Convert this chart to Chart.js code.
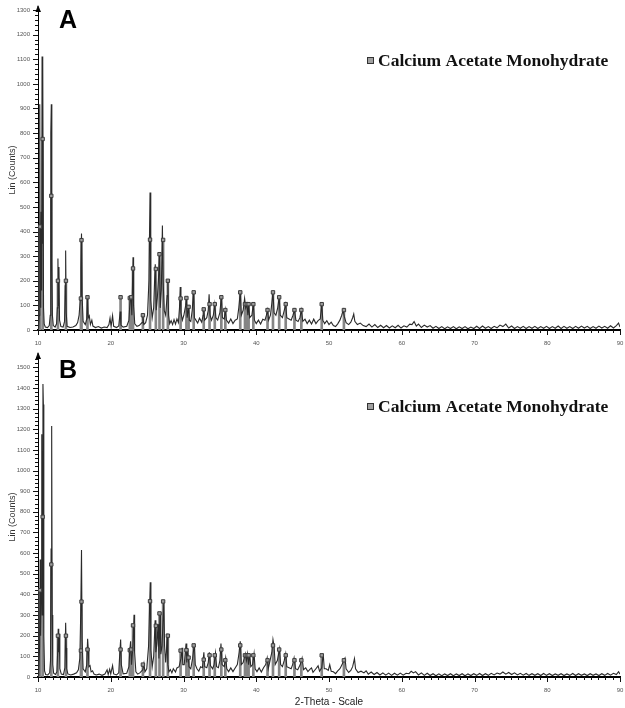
<!DOCTYPE html>
<html>
<head>
<meta charset="utf-8">
<script src="https://cdn.jsdelivr.net/npm/chart.js@4.4.1/dist/chart.umd.min.js"></script>
<style>
  html, body { margin: 0; padding: 0; background: #fff; width: 625px; height: 708px; overflow: hidden; }
  canvas { position: absolute; left: 0; }
  #panelA { top: 0; }
  #panelB { top: 350px; }
</style>
</head>
<body>
<canvas id="panelA" width="625" height="350"></canvas>
<canvas id="panelB" width="625" height="358"></canvas>
<script>
// 2-Theta tick labels and count tick labels
const thetaTicks = [10, 20, 30, 40, 50, 60, 70, 80, 90];
const countTicksA = [0, 100, 200, 300, 400, 500, 600, 700, 800, 900, 1000, 1100, 1200, 1300];
const countTicksB = [0, 100, 200, 300, 400, 500, 600, 700, 800, 900, 1000, 1100, 1200, 1300, 1400, 1500];

// Reference stick pattern: Calcium Acetate Monohydrate (2-Theta, counts)
const refTheta = [10.27, 10.64, 11.83, 12.74, 13.84, 15.90, 15.98, 16.80, 21.35, 22.62, 22.80, 23.06,
  24.42, 25.40, 26.20, 26.70, 27.20, 27.85, 29.60, 30.40, 30.70, 31.40, 32.78, 33.58, 34.30, 35.20,
  35.75, 37.80, 38.45, 38.70, 38.95, 39.60, 41.55, 42.30, 43.15, 44.05, 45.25, 46.20, 49.00, 52.05];
const refCounts = [420, 776, 545, 200, 200, 128, 365, 133, 133, 130, 133, 250,
  60, 367, 248, 308, 366, 200, 128, 130, 94, 153, 84, 105, 105, 133,
  81, 153, 105, 105, 105, 105, 81, 153, 133, 105, 81, 81, 105, 81];

// Measured scan, sample A (2-Theta, counts)
const scanA = [
  [10.00,8],[10.10,14],[10.18,60],[10.24,917],[10.30,200],[10.38,90],[10.45,480],[10.50,160],[10.56,1111],
  [10.62,350],[10.68,1090],[10.76,90],[10.85,25],[11.00,12],[11.30,10],[11.55,18],[11.68,60],[11.76,800],
  [11.83,917],[11.90,280],[11.98,60],[12.10,18],[12.35,12],[12.55,25],[12.66,90],[12.74,290],[12.81,100],
  [12.88,256],[12.96,40],[13.15,14],[13.45,12],[13.65,35],[13.74,180],[13.80,323],[13.88,70],[14.00,15],
  [14.40,10],[14.80,12],[15.20,18],[15.45,30],[15.65,60],[15.80,120],[15.90,250],[15.98,392],[16.06,140],
  [16.20,35],[16.50,22],[16.70,45],[16.80,133],[16.90,50],[17.05,58],[17.20,22],[17.40,40],[17.55,16],
  [17.90,10],[18.30,14],[18.70,8],[19.10,12],[19.50,10],[19.75,22],[19.90,48],[20.05,14],[20.25,58],
  [20.40,15],[20.80,10],[21.10,16],[21.30,75],[21.40,20],[21.70,12],[22.20,15],[22.50,40],[22.65,120],
  [22.78,130],[22.90,60],[23.00,200],[23.06,296],[23.14,100],[23.30,25],[23.60,15],[23.90,18],[24.30,30],
  [24.42,57],[24.55,22],[24.80,30],[25.05,60],[25.25,200],[25.40,559],[25.50,120],[25.70,50],[25.90,90],
  [26.05,220],[26.12,267],[26.25,80],[26.40,130],[26.55,200],[26.70,310],[26.80,90],[26.95,160],[27.10,424],
  [27.20,200],[27.35,80],[27.55,60],[27.75,140],[27.85,202],[27.95,60],[28.10,25],[28.30,38],[28.50,22],
  [28.70,42],[28.90,24],[29.10,45],[29.30,30],[29.45,90],[29.55,175],[29.65,70],[29.85,40],[30.05,60],
  [30.30,100],[30.40,128],[30.50,50],[30.70,94],[30.80,40],[31.00,35],[31.20,80],[31.37,155],[31.50,50],
  [31.70,40],[31.95,28],[32.20,48],[32.50,32],[32.70,60],[32.78,84],[32.90,40],[33.20,50],[33.40,80],
  [33.52,145],[33.65,60],[33.85,40],[34.10,60],[34.30,105],[34.45,50],[34.70,40],[35.00,70],[35.20,133],
  [35.35,50],[35.60,45],[35.75,81],[35.90,40],[36.20,28],[36.50,45],[36.80,26],[37.10,40],[37.40,45],
  [37.60,90],[37.80,153],[37.95,60],[38.20,80],[38.40,128],[38.55,90],[38.70,105],[38.85,60],[38.95,105],
  [39.10,50],[39.40,60],[39.60,105],[39.75,40],[40.00,26],[40.30,40],[40.60,24],[40.90,44],[41.20,40],
  [41.40,60],[41.55,81],[41.70,40],[41.95,60],[42.15,110],[42.30,153],[42.45,70],[42.70,60],[42.95,90],
  [43.15,133],[43.30,60],[43.60,50],[43.85,80],[44.05,105],[44.20,50],[44.50,45],[44.80,40],[45.05,60],
  [45.25,81],[45.45,40],[45.75,35],[46.00,50],[46.20,81],[46.40,35],[46.70,44],[47.00,26],[47.30,40],
  [47.60,24],[47.90,44],[48.20,26],[48.50,38],[48.80,45],[49.00,105],[49.15,40],[49.40,26],[49.70,38],
  [50.00,22],[50.30,32],[50.60,18],[50.90,14],[51.20,25],[51.50,40],[51.75,60],[51.95,81],[52.10,55],
  [52.35,30],[52.70,22],[53.00,32],[53.25,50],[53.40,65],[53.55,35],[53.90,22],[54.30,28],[54.70,18],
  [55.10,14],[55.50,24],[55.90,12],[56.30,22],[56.70,10],[57.10,19],[57.50,9],[57.90,18],[58.30,8],
  [58.70,17],[59.10,9],[59.50,19],[59.90,8],[60.30,17],[60.70,12],[61.10,24],[61.40,22],[61.70,34],
  [62.00,16],[62.30,24],[62.70,10],[63.10,20],[63.50,12],[63.90,18],[64.30,7],[64.70,15],[65.10,6],
  [65.50,14],[65.90,5],[66.30,13],[66.70,6],[67.10,14],[67.50,5],[67.90,13],[68.30,6],[68.70,14],
  [69.10,5],[69.50,12],[69.90,6],[70.30,15],[70.70,6],[71.10,16],[71.50,7],[71.90,14],[72.30,6],
  [72.70,15],[73.10,9],[73.50,20],[73.90,14],[74.30,24],[74.70,8],[75.10,16],[75.50,6],[75.90,14],
  [76.30,7],[76.70,15],[77.10,6],[77.50,14],[77.90,7],[78.30,15],[78.70,6],[79.10,14],[79.50,7],
  [79.90,15],[80.30,6],[80.70,14],[81.10,7],[81.50,16],[81.90,6],[82.30,15],[82.70,7],[83.10,14],
  [83.50,6],[83.90,15],[84.30,7],[84.70,16],[85.10,8],[85.50,15],[85.90,6],[86.30,14],[86.70,7],
  [87.10,16],[87.50,8],[87.90,15],[88.30,7],[88.70,17],[89.10,8],[89.50,18],[89.80,28],[90.00,12]
];

// Measured scan, sample B (2-Theta, counts)
const scanB = [
  [10.00,8],[10.10,15],[10.22,150],[10.30,569],[10.36,200],[10.45,420],[10.52,1176],[10.58,300],[10.68,1419],
  [10.74,1320],[10.80,200],[10.90,30],[11.05,12],[11.35,10],[11.60,20],[11.72,80],[11.80,620],[11.88,1216],
  [11.95,300],[12.03,60],[12.15,18],[12.40,12],[12.60,25],[12.70,120],[12.78,234],[12.85,120],[12.92,210],
  [13.00,40],[13.20,14],[13.50,12],[13.70,45],[13.80,263],[13.88,140],[13.95,40],[14.10,15],[14.50,10],
  [14.90,14],[15.30,20],[15.55,35],[15.75,90],[15.88,320],[15.98,615],[16.06,180],[16.20,40],[16.50,25],
  [16.70,60],[16.82,185],[16.90,140],[17.00,50],[17.15,55],[17.30,25],[17.50,30],[17.70,14],[18.00,10],
  [18.40,14],[18.80,8],[19.20,14],[19.50,35],[19.65,12],[19.85,38],[20.00,15],[20.25,55],[20.40,15],
  [20.80,10],[21.10,20],[21.25,120],[21.36,181],[21.45,60],[21.70,15],[22.20,18],[22.50,50],[22.62,130],
  [22.73,173],[22.85,60],[23.05,150],[23.20,302],[23.28,120],[23.45,25],[23.70,14],[24.00,20],[24.40,35],
  [24.56,65],[24.70,25],[24.95,40],[25.20,150],[25.43,459],[25.52,130],[25.70,50],[25.90,100],[26.10,275],
  [26.20,120],[26.35,160],[26.50,256],[26.62,90],[26.77,314],[26.88,110],[27.05,150],[27.30,372],[27.40,150],
  [27.55,70],[27.65,120],[27.75,210],[27.85,60],[28.00,25],[28.20,36],[28.40,20],[28.60,40],[28.90,24],
  [29.10,44],[29.40,50],[29.65,90],[29.80,142],[29.90,60],[30.10,60],[30.35,162],[30.45,70],[30.60,138],
  [30.75,50],[31.00,40],[31.25,90],[31.50,162],[31.62,60],[31.85,40],[32.10,28],[32.35,50],[32.60,45],
  [32.80,120],[32.92,50],[33.20,45],[33.40,70],[33.55,120],[33.70,55],[34.00,40],[34.20,60],[34.40,117],
  [34.55,50],[34.80,45],[35.00,80],[35.15,162],[35.30,60],[35.60,50],[35.80,93],[35.95,40],[36.20,26],
  [36.50,44],[36.80,26],[37.10,44],[37.40,60],[37.65,120],[37.80,173],[37.95,60],[38.20,70],[38.50,113],
  [38.65,80],[38.80,113],[38.95,60],[39.10,113],[39.25,50],[39.50,60],[39.70,113],[39.85,40],[40.10,26],
  [40.40,44],[40.70,24],[41.00,45],[41.30,60],[41.50,92],[41.65,40],[41.90,80],[42.15,120],[42.30,181],
  [42.45,150],[42.60,60],[42.90,80],[43.20,136],[43.35,60],[43.60,50],[43.85,80],[44.05,113],[44.20,50],
  [44.50,45],[44.80,40],[45.00,60],[45.20,92],[45.40,40],[45.70,35],[46.05,60],[46.30,92],[46.50,35],
  [46.80,44],[47.10,26],[47.40,38],[47.60,44],[47.80,22],[48.20,40],[48.50,54],[48.70,28],[49.00,45],
  [49.20,113],[49.35,40],[49.60,40],[49.90,32],[50.10,60],[50.30,28],[50.60,25],[50.90,16],[51.20,30],
  [51.50,40],[51.80,60],[52.00,80],[52.20,92],[52.35,40],[52.70,22],[53.00,32],[53.25,50],[53.50,89],
  [53.65,40],[54.00,22],[54.40,28],[54.80,20],[55.10,30],[55.40,14],[55.80,24],[56.20,12],[56.60,22],
  [57.00,10],[57.40,20],[57.80,9],[58.20,19],[58.60,8],[59.00,18],[59.40,9],[59.80,19],[60.20,9],
  [60.60,18],[61.00,16],[61.30,28],[61.60,20],[61.90,26],[62.30,10],[62.70,20],[63.10,8],[63.50,18],
  [63.90,7],[64.30,16],[64.70,6],[65.10,15],[65.50,6],[65.90,15],[66.30,7],[66.70,16],[67.10,6],
  [67.50,15],[67.90,7],[68.30,16],[68.70,6],[69.10,15],[69.50,7],[69.90,16],[70.30,8],[70.70,17],
  [71.10,7],[71.50,16],[71.90,8],[72.30,18],[72.70,10],[73.10,19],[73.50,14],[73.90,24],[74.30,14],
  [74.70,22],[75.10,12],[75.50,20],[75.90,10],[76.30,18],[76.70,9],[77.10,17],[77.50,8],[77.90,16],
  [78.30,8],[78.70,16],[79.10,7],[79.50,17],[79.90,8],[80.30,16],[80.70,7],[81.10,15],[81.50,8],
  [81.90,16],[82.30,7],[82.70,15],[83.10,8],[83.50,17],[83.90,7],[84.30,16],[84.70,8],[85.10,15],
  [85.50,7],[85.90,16],[86.30,8],[86.70,15],[87.10,7],[87.50,16],[87.90,8],[88.30,17],[88.70,9],
  [89.10,18],[89.50,12],[89.80,26],[90.00,14]
];

const FONT_SANS = '"Liberation Sans", Arial, Helvetica, sans-serif';
const FONT_SERIF = '"Liberation Serif", "Times New Roman", serif';

// Minor ticks, axis arrow, panel letter and pattern legend
const xrdDecor = {
  id: 'xrdDecor',
  afterDraw(chart, args, opts) {
    const { ctx, chartArea: a, scales: { x, y } } = chart;
    ctx.save();
    ctx.strokeStyle = '#111';
    ctx.lineWidth = 1;
    // 2-Theta ticks: every degree, longer every ten
    for (let d = Math.round(x.min); d <= Math.round(x.max); d++) {
      const px = Math.round(x.getPixelForValue(d)) + 0.5;
      const len = d % 10 === 0 ? 5 : 3;
      ctx.beginPath();
      ctx.moveTo(px, a.bottom);
      ctx.lineTo(px, a.bottom + len);
      ctx.stroke();
    }
    // count ticks: every 20 counts, longer every 100
    for (let c = 0; c <= y.max; c += 20) {
      const py = Math.round(y.getPixelForValue(c)) + 0.5;
      const len = c % 100 === 0 ? 5 : 3;
      ctx.beginPath();
      ctx.moveTo(a.left, py);
      ctx.lineTo(a.left - len, py);
      ctx.stroke();
    }
    // arrow head on the count axis
    ctx.fillStyle = '#000';
    ctx.beginPath();
    ctx.moveTo(a.left, a.top - 5);
    ctx.lineTo(a.left - 2.5, a.top + 2);
    ctx.lineTo(a.left + 3, a.top + 2);
    ctx.closePath();
    ctx.fill();
    ctx.beginPath();
    ctx.moveTo(a.left, a.top);
    ctx.lineTo(a.left, a.top - 4);
    ctx.stroke();

    // panel letter
    ctx.fillStyle = '#000';
    ctx.font = 'bold 25px ' + FONT_SANS;
    ctx.textAlign = 'center';
    ctx.textBaseline = 'middle';
    ctx.fillText(opts.letter, opts.letterX, a.top + opts.letterDy);

    // legend entry for the reference pattern
    const ref = chart.data.datasets.find(d => d.isReference);
    const ly = a.top + opts.legendDy;
    ctx.fillStyle = '#a0a0a0';
    ctx.strokeStyle = '#333';
    ctx.lineWidth = 1;
    ctx.fillRect(367.5, ly - 3.5, 6, 6);
    ctx.strokeRect(367.5, ly - 3.5, 6, 6);
    ctx.fillStyle = '#111';
    ctx.font = 'bold 17.5px ' + FONT_SERIF;
    ctx.textAlign = 'left';
    ctx.fillText(ref.label, 378, ly);
    ctx.restore();
  }
};

function buildChart(canvasId, scan, countTicks, yMax, opts) {
  const refPoints = refTheta.map((t, i) => ({ x: t, y: refCounts[i] }));
  return new Chart(document.getElementById(canvasId), {
    type: 'line',
    data: {
      datasets: [
        {
          type: 'scatter',
          label: 'Calcium Acetate Monohydrate',
          isReference: true,
          data: refPoints,
          pointStyle: 'rect',
          pointRadius: 2.4,
          backgroundColor: '#9c9c9c',
          borderColor: '#3c3c3c',
          borderWidth: 1,
          order: 1
        },
        {
          type: 'line',
          label: 'Scan',
          data: scan.map(([t, c]) => ({ x: t, y: c })),
          borderColor: '#2a2a2a',
          borderWidth: 1.1,
          pointRadius: 0,
          tension: 0,
          order: 2
        },
        {
          type: 'bar',
          label: 'Reference sticks',
          data: refPoints,
          backgroundColor: '#858585',
          barThickness: 2,
          order: 3
        }
      ]
    },
    options: {
      responsive: false,
      animation: false,
      devicePixelRatio: 1,
      events: [],
      layout: { padding: { top: opts.padTop, right: 3, left: 0, bottom: 0 } },
      plugins: {
        legend: { display: false },
        tooltip: { enabled: false },
        xrdDecor: opts
      },
      scales: {
        x: {
          type: 'linear',
          min: 10,
          max: 90,
          offset: false,
          grid: { display: false, drawTicks: false },
          border: { display: true, color: '#000', width: 2 },
          afterBuildTicks: s => { s.ticks = thetaTicks.map(v => ({ value: v })); },
          afterFit: s => {
            s.height = opts.xHeight;
            s.paddingLeft = 0;
            s.paddingRight = 0;
          },
          ticks: {
            padding: 10,
            color: '#555',
            font: { family: FONT_SANS, size: 6 },
            maxRotation: 0,
            autoSkip: false,
            callback: v => String(v)
          },
          title: {
            display: opts.showXTitle,
            text: '2-Theta - Scale',
            color: '#222',
            font: { family: FONT_SANS, size: 10 },
            padding: { top: 0, bottom: 0 }
          }
        },
        y: {
          min: 0,
          max: yMax,
          grid: { display: false, drawTicks: false },
          border: { display: true, color: '#000', width: 1 },
          afterBuildTicks: s => { s.ticks = countTicks.map(v => ({ value: v })); },
          afterFit: s => {
            s.width = 38;
            s.paddingTop = 0;
            s.paddingBottom = 0;
          },
          ticks: {
            padding: 8,
            color: '#555',
            font: { family: FONT_SANS, size: 6 },
            autoSkip: false,
            callback: v => String(v)
          },
          title: {
            display: true,
            text: 'Lin (Counts)',
            color: '#333',
            font: { family: FONT_SANS, size: 9 },
            padding: { top: 7, bottom: 0 }
          }
        }
      }
    },
    plugins: [xrdDecor]
  });
}

buildChart('panelA', scanA, countTicksA, 1300, {
  letter: 'A', letterX: 68, letterDy: 11, legendDy: 51,
  padTop: 10, xHeight: 20, showXTitle: false
});
buildChart('panelB', scanB, countTicksB, 1550, {
  letter: 'B', letterX: 68, letterDy: 14, legendDy: 50,
  padTop: 7, xHeight: 31, showXTitle: true
});
</script>
</body>
</html>
